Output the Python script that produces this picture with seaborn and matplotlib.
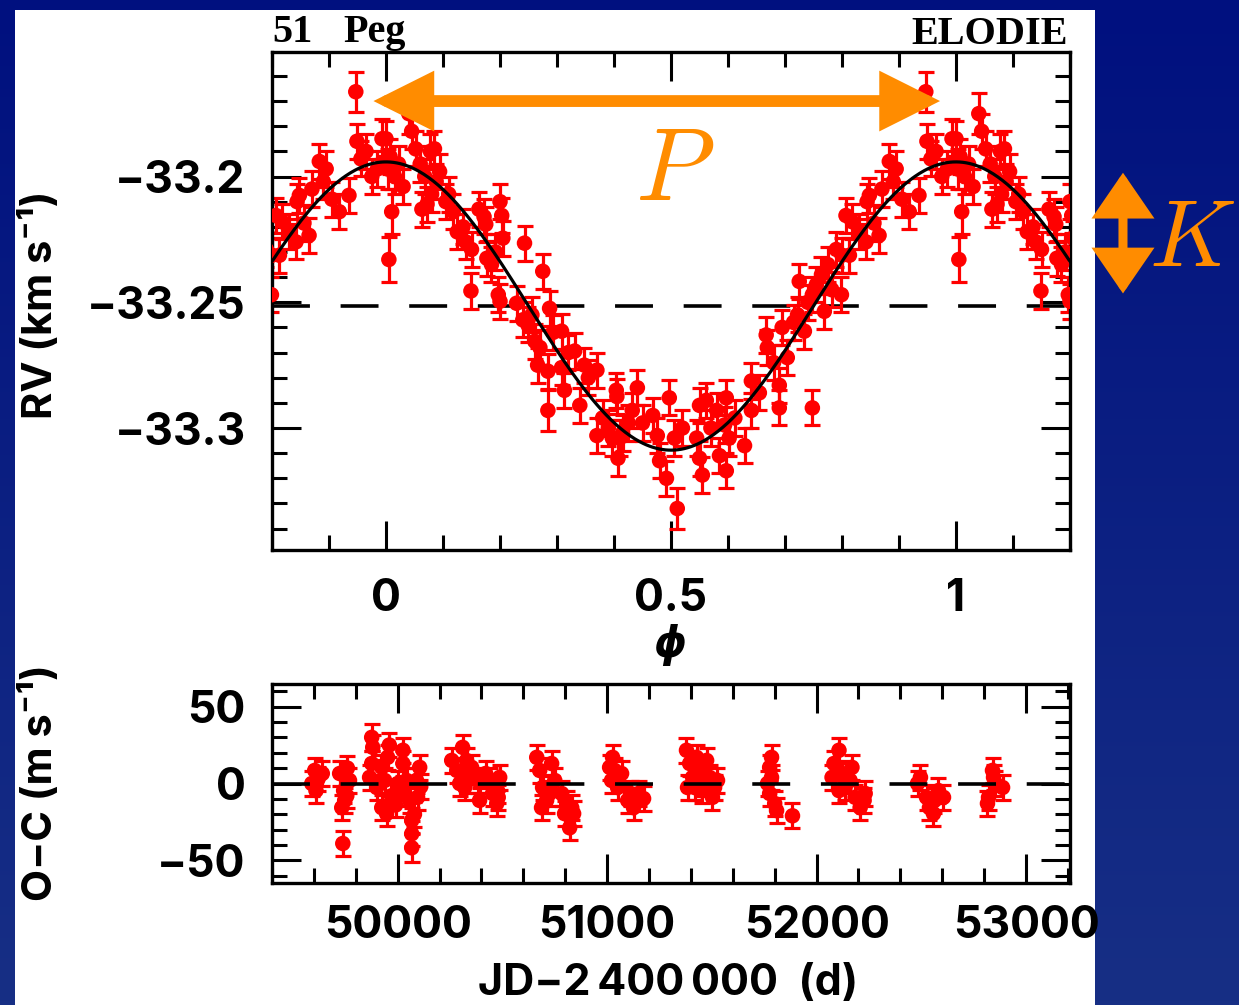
import numpy as np
import pandas as pd
import matplotlib
matplotlib.use("Agg")
import matplotlib.pyplot as plt
import seaborn as sns
from matplotlib.ticker import MultipleLocator, FixedLocator, FixedFormatter
from matplotlib.patches import Rectangle
from matplotlib.colors import LinearSegmentedColormap

# ---------------- data ----------------
phase = [0.000, 0.003, 0.007, 0.010, 0.005, 0.015, 0.022, 0.030, 0.040, 0.045,
         0.052, 0.060, 0.063, 0.072, 0.078, 0.085, 0.088, 0.094, 0.080, 0.068,
         0.105, 0.110, 0.118, 0.125, 0.135, 0.140, 0.149, 0.150, 0.163, 0.172,
         0.175, 0.177, 0.185, 0.192, 0.197,
         0.200, 0.203, 0.205, 0.200, 0.229, 0.243, 0.249, 0.256, 0.240, 0.261,
         0.266, 0.275, 0.284, 0.284, 0.287, 0.270, 0.293,
         0.308, 0.308, 0.313, 0.320, 0.331, 0.340, 0.348, 0.355, 0.370, 0.370,
         0.380, 0.397, 0.390,
         0.404, 0.405, 0.410, 0.415, 0.407, 0.425, 0.432, 0.441, 0.450, 0.468,
         0.476, 0.480, 0.492, 0.497,
         0.506, 0.511, 0.520, 0.545, 0.550, 0.550, 0.555, 0.562, 0.570, 0.580,
         0.585, 0.594, 0.597, 0.597,
         0.602, 0.612, 0.629, 0.641, 0.641, 0.655, 0.667, 0.669, 0.680, 0.690,
         0.690, 0.695,
         0.704, 0.715, 0.722, 0.725, 0.734, 0.740, 0.748, 0.748, 0.755, 0.764,
         0.769, 0.775, 0.782, 0.790, 0.799,
         0.800, 0.807, 0.813, 0.818, 0.830, 0.844, 0.842, 0.848, 0.856, 0.865,
         0.870, 0.883, 0.890, 0.895,
         0.905, 0.918, 0.935, 0.947, 0.949, 0.956, 0.965, 0.975, 0.985, 0.993]

rv = [-33.185, -33.197, -33.192, -33.214, -33.233, -33.200, -33.195, -33.204, -33.175, -33.182,
      -33.189, -33.195, -33.213, -33.211, -33.190, -33.189, -33.202, -33.198, -33.207, -33.200,
      -33.210, -33.207, -33.214, -33.222, -33.220, -33.226, -33.2455, -33.229, -33.213, -33.216,
      -33.219, -33.2325, -33.235, -33.230, -33.247,
      -33.210, -33.2155, -33.2245, -33.2496, -33.2504, -33.2265, -33.259, -33.255, -33.257, -33.2655,
      -33.275, -33.2377, -33.2774, -33.293, -33.2524, -33.268, -33.262,
      -33.2615, -33.276, -33.285, -33.270, -33.2694, -33.291, -33.275, -33.280, -33.277, -33.303,
      -33.296, -33.304, -33.300,
      -33.285, -33.2875, -33.304, -33.302, -33.312, -33.298, -33.293, -33.284, -33.298, -33.295,
      -33.303, -33.313, -33.320, -33.288,
      -33.304, -33.332, -33.300, -33.304, -33.291, -33.312, -33.3187, -33.289, -33.300, -33.293,
      -33.311, -33.2988, -33.288, -33.317,
      -33.304, -33.296, -33.307, -33.293, -33.2813, -33.286, -33.263, -33.268, -33.274, -33.283,
      -33.292, -33.260,
      -33.272, -33.258, -33.255, -33.2417, -33.2615, -33.250, -33.247, -33.292, -33.243, -33.239,
      -33.2536, -33.235, -33.245, -33.229, -33.247,
      -33.2313, -33.2155, -33.2313, -33.218, -33.222, -33.210, -33.226, -33.2075, -33.2185, -33.2234,
      -33.205, -33.194, -33.202, -33.197,
      -33.209, -33.214, -33.2075, -33.1663, -33.186, -33.193, -33.190, -33.200, -33.197, -33.185]

rv_err = [0.007, 0.008, 0.007, 0.009, 0.009, 0.007, 0.007, 0.007, 0.008, 0.007,
          0.007, 0.007, 0.007, 0.007, 0.007, 0.007, 0.007, 0.007, 0.007, 0.007,
          0.007, 0.007, 0.007, 0.007, 0.007, 0.007, 0.007, 0.007, 0.007, 0.007,
          0.007, 0.007, 0.007, 0.007, 0.007,
          0.007, 0.007, 0.007, 0.007, 0.007, 0.007, 0.007, 0.007, 0.007, 0.007,
          0.007, 0.007, 0.007, 0.008, 0.007, 0.007, 0.007,
          0.007, 0.007, 0.007, 0.007, 0.007, 0.007, 0.007, 0.007, 0.007, 0.007,
          0.007, 0.007, 0.007,
          0.007, 0.007, 0.007, 0.007, 0.007, 0.007, 0.007, 0.007, 0.007, 0.007,
          0.007, 0.007, 0.007, 0.007,
          0.007, 0.008, 0.007, 0.007, 0.007, 0.007, 0.007, 0.007, 0.007, 0.007,
          0.007, 0.007, 0.007, 0.007,
          0.007, 0.007, 0.007, 0.007, 0.007, 0.007, 0.007, 0.007, 0.007, 0.007,
          0.007, 0.007,
          0.007, 0.007, 0.007, 0.007, 0.007, 0.007, 0.007, 0.007, 0.007, 0.007,
          0.007, 0.007, 0.007, 0.007, 0.007,
          0.007, 0.007, 0.007, 0.007, 0.007, 0.007, 0.007, 0.007, 0.007, 0.007,
          0.007, 0.007, 0.007, 0.007,
          0.007, 0.007, 0.007, 0.008, 0.007, 0.007, 0.007, 0.007, 0.007, 0.008]

jd = [49604, 49610, 49640, 49590, 49620,
      49723, 49742, 49747, 49733, 49770, 49757, 49738, 49760,
      49876, 49881, 49876, 49924, 49938, 49924, 49947, 50025, 50025, 50043,
      50010, 50057, 50067, 50067, 50067, 50095, 50105, 50090, 49952, 49866,
      49900, 49970, 50000, 49990, 50080, 49960, 50110,
      50258, 50282, 50310, 50329, 50334, 50296, 50353, 50320,
      50382, 50391, 50439, 50473, 50477, 50487, 50453, 50420, 50480,
      50664, 50678, 50692, 50711, 50735, 50750, 50725, 50687,
      50783, 50807, 50831, 50821, 50797, 50840,
      51026, 51036, 51021, 51050, 51069, 51012,
      51098, 51126, 51174, 51150, 51112,
      51379, 51394, 51408, 51384, 51427, 51442, 51456, 51475, 51489, 51513,
      51527, 51503, 51418, 51451,
      51785, 51776, 51785, 51776, 51800, 51809, 51766,
      51885,
      52107, 52083, 52074, 52107, 52169, 52160, 52184, 52227, 52208, 52122,
      52136, 52232,
      52482, 52496,
      52525, 52539, 52558, 52582, 52606, 52563,
      52840, 52821, 52854, 52888, 52816, 52845]

oc = [8.5, -4.6, 6.5, 0.0, 3.0,
      6.5, -4.6, -11.0, -15.7, 2.0, -8.0, -39.0, 10.0,
      30.0, 23.5, 13.0, 10.5, 2.0, -15.7, -19.6, 21.6, 13.0, 2.0,
      -6.5, -11.0, -24.0, -32.7, -41.8, -9.0, 10.5, 2.0, 17.0, 4.0,
      -2.6, -8.0, 0.0, -14.0, -20.0, 25.0, -2.0,
      15.0, 8.5, 23.5, 15.0, 2.0, 0.0, 10.5, -2.6,
      2.0, -11.0, 2.0, -13.0, -4.6, 4.0, -6.5, 6.5, -9.0,
      17.0, 8.5, -2.6, -11.0, 13.0, 2.0, -6.5, -15.7,
      -6.5, -13.0, -15.7, -28.8, -19.6, -19.6,
      17.0, 8.5, 2.0, -2.6, 6.5, 10.5,
      -11.0, -15.7, -9.8, -6.5, -6.5,
      21.6, 13.0, 4.0, -2.6, 17.0, 8.5, 0.0, 15.0, 4.0, -2.6,
      2.0, -9.0, -2.6, -4.6,
      17.0, 10.5, 4.0, -6.5, -13.0, -17.6, 0.0,
      -21.0,
      21.6, 13.0, 4.0, -4.6, 10.5, 2.0, -9.0, -11.0, -15.7, 6.5,
      -2.6, -6.5,
      0.0, 4.0,
      -9.0, -15.7, -19.6, -4.6, -9.0, -11.0,
      8.5, -9.0, 0.0, -2.6, -13.0, 4.0]

oc_err = [8, 8, 8, 8, 8,
          8, 8, 8, 8, 8, 8, 8, 8,
          9, 8, 8, 8, 8, 8, 8, 8, 8, 8,
          8, 8, 8, 8, 9, 8, 8, 8, 8, 8,
          8, 8, 8, 8, 8, 8, 8,
          8, 8, 8, 8, 8, 8, 8, 8,
          8, 8, 8, 8, 8, 8, 8, 8, 8,
          8, 8, 8, 8, 8, 8, 8, 8,
          8, 8, 8, 8, 8, 8,
          8, 8, 8, 8, 8, 8,
          8, 8, 8, 8, 8,
          8, 8, 8, 8, 8, 8, 8, 8, 8, 8,
          8, 8, 8, 8,
          8, 8, 8, 8, 8, 8, 8,
          8,
          8, 8, 8, 8, 8, 8, 8, 8, 8, 8,
          8, 8,
          8, 8,
          8, 8, 8, 8, 8, 8,
          8, 8, 8, 8, 8, 8]

# orbit model parameters
gamma = -33.2515
K_amp = 0.0573

rv_ticks = [-33.3, -33.25, -33.2]
rv_ticklabels = ["\u221233.3", "\u221233.25", "\u221233.2"]
ph_ticks = [0, 0.5, 1]
ph_ticklabels = ["0", "0.5", "1"]
jd_ticks = [50000, 51000, 52000, 53000]
jd_ticklabels = ["50000", "51000", "52000", "53000"]
oc_ticks = [-50, 0, 50]
oc_ticklabels = ["\u221250", "0", "50"]

# ---------------- figure ----------------
sns.set_theme(style="ticks")
SANS = ["Inter", "Liberation Sans", "DejaVu Sans"]
plt.rcParams["font.family"] = SANS
plt.rcParams["font.weight"] = "bold"

W, H = 1239, 1005
fig = plt.figure(figsize=(W / 100, H / 100), dpi=100)

# blue gradient background
bg = fig.add_axes([0, 0, 1, 1], zorder=-10)
cmap = LinearSegmentedColormap.from_list("bg", ["#172f85", "#00107f"])
bg.imshow(np.linspace(0, 1, 256).reshape(-1, 1), aspect="auto", cmap=cmap,
          extent=[0, 1, 0, 1], origin="lower")
bg.axis("off")
fig.patches.append(Rectangle((15 / W, 0), (1095 - 15) / W, 1 - 10 / H,
                             transform=fig.transFigure, facecolor="white",
                             edgecolor="none", zorder=-5))

red = "#ff0000"
orange = "#ff8c00"
LW = 2.3

def px(x0, y0, x1, y1):
    return [x0 / W, 1 - y1 / H, (x1 - x0) / W, (y1 - y0) / H]

ax1 = fig.add_axes(px(272, 52, 1070, 550))
ax2 = fig.add_axes(px(272, 684, 1070, 883))

# ---- top panel ----
df = pd.DataFrame({"phase": phase, "rv": rv, "err": rv_err})
folded = pd.concat([df.assign(phase=df["phase"] + s) for s in (-1, 0, 1)],
                   ignore_index=True)
ax1.errorbar(folded["phase"], folded["rv"], yerr=folded["err"], fmt="none",
             ecolor=red, elinewidth=LW, capsize=5.8, capthick=LW, zorder=2)
sns.scatterplot(data=folded, x="phase", y="rv", color=red, s=125,
                edgecolor="none", ax=ax1, zorder=3, legend=False)

ph_grid = np.linspace(-0.2, 1.2, 500)
model = gamma + K_amp * np.cos(2 * np.pi * ph_grid)
sns.lineplot(x=ph_grid, y=model, color="black", lw=LW, ax=ax1, zorder=4)
ax1.axhline(gamma, color="black", lw=2.6, ls=(0, (10.5, 8.5)), zorder=1)

ax1.set_xlim(-0.2, 1.2)
ax1.set_ylim(-33.3485, -33.1505)

# ---- bottom panel ----
dfo = pd.DataFrame({"jd": jd, "oc": oc, "err": oc_err})
ax2.errorbar(dfo["jd"], dfo["oc"], yerr=dfo["err"], fmt="none", ecolor=red,
             elinewidth=LW, capsize=5.8, capthick=LW, zorder=2)
sns.scatterplot(data=dfo, x="jd", y="oc", color=red, s=125, edgecolor="none",
                ax=ax2, zorder=3, legend=False)
ax2.axhline(0, color="black", lw=2.6, ls=(0, (10.5, 8.5)), zorder=4)
ax2.set_xlim(49400, 53210)
ax2.set_ylim(-64.7, 64.7)

tickfont = dict(family=SANS, weight="bold", size=32)
for ax in (ax1, ax2):
    ax.set_xlabel("")
    ax.set_ylabel("")
    for s in ax.spines.values():
        s.set_linewidth(2.4)
        s.set_color("black")
    ax.tick_params(which="both", direction="in", top=True, right=True,
                   width=2.2, color="black", labelcolor="black")
    ax.tick_params(which="major", length=21)
    ax.tick_params(which="minor", length=10.5)
    ax.set_facecolor("white")

ax1.xaxis.set_major_locator(FixedLocator(ph_ticks))
ax1.xaxis.set_major_formatter(FixedFormatter(ph_ticklabels))
ax1.xaxis.set_minor_locator(MultipleLocator(0.1))
ax1.yaxis.set_major_locator(FixedLocator(rv_ticks))
ax1.yaxis.set_major_formatter(FixedFormatter(rv_ticklabels))
ax1.yaxis.set_minor_locator(MultipleLocator(0.01))
ax1.tick_params(axis="x", which="major", pad=20)
ax1.tick_params(axis="y", which="major", pad=19)

ax2.xaxis.set_major_locator(FixedLocator(jd_ticks))
ax2.xaxis.set_major_formatter(FixedFormatter(jd_ticklabels))
ax2.xaxis.set_minor_locator(MultipleLocator(200))
ax2.yaxis.set_major_locator(FixedLocator(oc_ticks))
ax2.yaxis.set_major_formatter(FixedFormatter(oc_ticklabels))
ax2.yaxis.set_minor_locator(MultipleLocator(10))
ax2.tick_params(axis="x", which="major", pad=16)
ax2.tick_params(axis="y", which="major", pad=19)

for ax in (ax1, ax2):
    for lab in ax.get_xticklabels() + ax.get_yticklabels():
        lab.set_fontproperties(tickfont)
        lab.set_color("black")

# ---- labels ----
lab = dict(family=SANS, weight="bold", color="black")
fig.text(40 / W, 1 - 305 / H, "RV (km s\u207b\u00b9)", rotation=90, ha="center",
         va="center", fontsize=30, **lab)
fig.text(40 / W, 1 - 783 / H, "O\u2212C (m s\u207b\u00b9)", rotation=90, ha="center",
         va="center", fontsize=30, **lab)
fig.text(670 / W, 1 - 645 / H, "\u03d5", ha="center", va="center", fontsize=30,
         family=["DejaVu Sans"], weight="bold", style="italic", color="black")
fig.text(668 / W, 1 - 983 / H, "JD\u22122\u2009400\u2009000  (d)", ha="center",
         va="center", fontsize=31, **lab)
serif = dict(family=["Liberation Serif"], weight="bold", color="black", fontsize=29)
fig.text(272 / W, 1 - 42 / H, "51", ha="left", va="baseline", **serif)
fig.text(343 / W, 1 - 42 / H, "Peg", ha="left", va="baseline", **serif)
fig.text(1068 / W, 1 - 44 / H, "ELODIE", ha="right", va="baseline", **serif)

# ---- orange annotations: period P and semi-amplitude K ----
arrow_kw = dict(arrowstyle="<|-|>,head_length=1.0,head_width=0.5", color=orange,
                lw=8.5, mutation_scale=30, shrinkA=0, shrinkB=0, joinstyle="miter")
ax1.annotate("", xy=(0.972, -33.170), xytext=(-0.022, -33.170),
             xycoords="data", textcoords="data", arrowprops=arrow_kw,
             annotation_clip=False, zorder=6)
ax1.text(0.506, -33.2095, r"$P$", color=orange, fontsize=74, ha="center",
         va="baseline", math_fontfamily="cm", zorder=6)

blend = ax1.get_yaxis_transform()
ax1.annotate("", xy=(1.0664, -33.1985), xytext=(1.0664, -33.2465),
             xycoords=blend, textcoords=blend,
             arrowprops=dict(arrowstyle="<|-|>,head_length=0.8,head_width=0.55",
                             color=orange, lw=6.5, mutation_scale=30,
                             shrinkA=0, shrinkB=0, joinstyle="miter"),
             annotation_clip=False, zorder=6)
ax1.text(1.153, -33.2357, r"$K$", color=orange, fontsize=68, ha="center",
         va="baseline", math_fontfamily="cm", transform=blend, clip_on=False,
         zorder=6)

fig.savefig("out.png", dpi=100)
